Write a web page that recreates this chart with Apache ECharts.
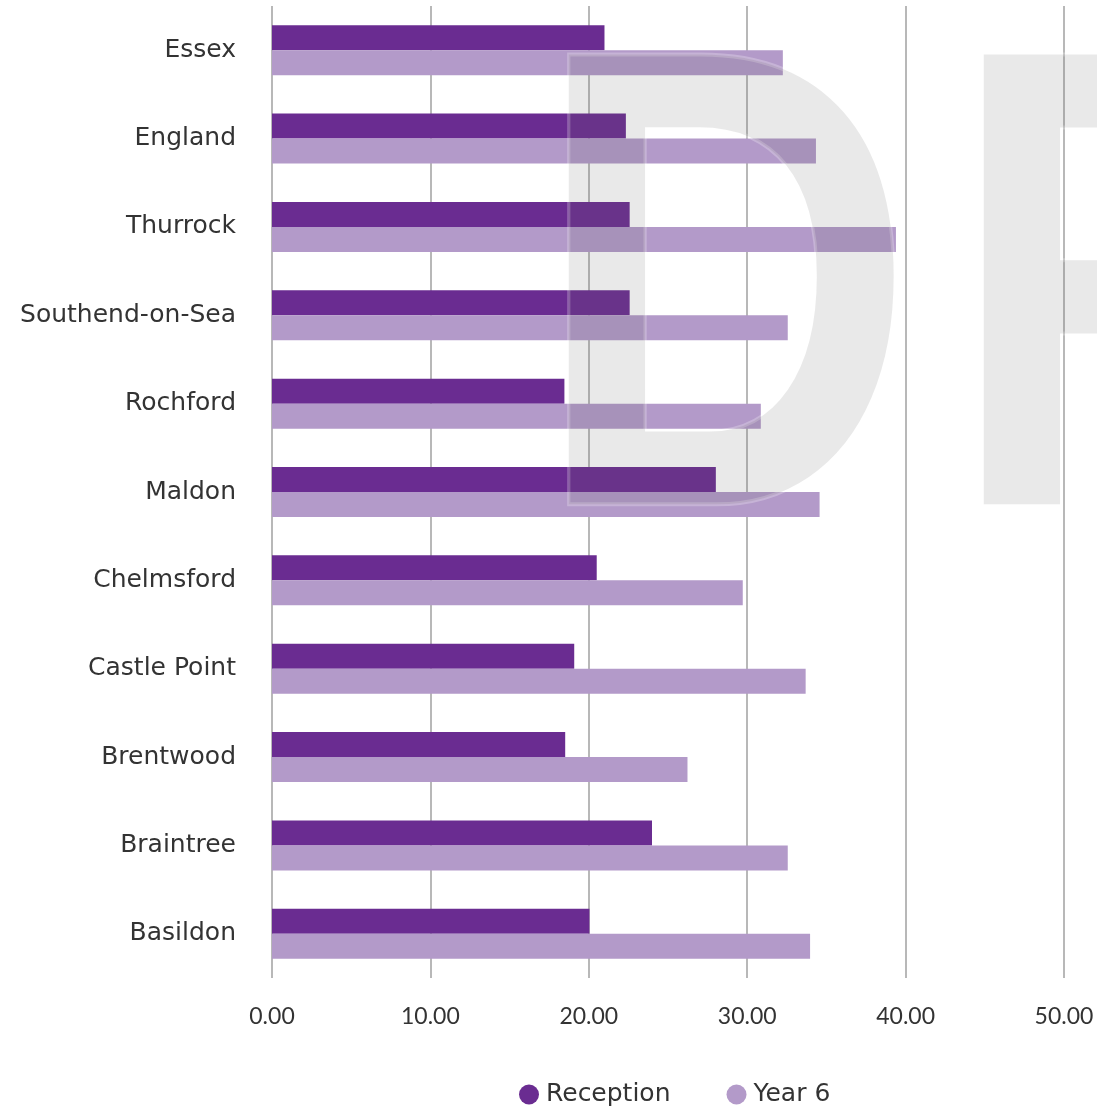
<!DOCTYPE html>
<html>
<head>
<meta charset="utf-8">
<script src="https://cdn.jsdelivr.net/npm/echarts@6/dist/echarts.min.js"></script>
<style>
html,body{margin:0;padding:0;background:#fff;}
#chart{width:1097px;height:1110px;}
</style>
</head>
<body>
<div id="chart"></div>
<script>
// Categories listed bottom to top
var categories = ['Basildon','Braintree','Brentwood','Castle Point','Chelmsford','Maldon','Rochford','Southend-on-Sea','Thurrock','England','Essex'];
var reception = [20.04, 23.99, 18.51, 19.08, 20.50, 28.02, 18.46, 22.58, 22.58, 22.34, 20.99];
var year6 = [33.97, 32.56, 26.23, 33.69, 29.72, 34.57, 30.86, 32.56, 39.39, 34.34, 32.25];
var seriesNames = ['Reception', 'Year 6'];
var xTicks = [0, 10, 20, 30, 40, 50];
var watermarkText = 'DRAFT';

var LABEL_FONT = '"DejaVu Sans", sans-serif';
var AXIS_FONT = 'Lato, "Noto Sans", sans-serif';

// watermark letters (semi-transparent overlay above the bars)
var wmSize = 654, wmScale = 0.81;
var wmLetters = watermarkText.split('').map(function (ch, i) {
  var lsb = 0.073 * wmSize * wmScale;
  return {
    type: 'text',
    x: 572 - lsb + i * 415,
    y: -3,
    z: 100,
    scaleX: wmScale,
    silent: true,
    style: {
      text: ch,
      font: 'bold ' + wmSize + 'px "Liberation Sans", Arial, sans-serif',
      fill: 'rgba(100,100,100,0.14)',
      stroke: 'rgba(255,255,255,0.25)',
      lineWidth: 4,
      textAlign: 'left',
      textVerticalAlign: 'top'
    }
  };
});

var chart = echarts.init(document.getElementById('chart'), null, {renderer: 'canvas'});
chart.setOption({
  animation: false,
  backgroundColor: '#ffffff',
  grid: {left: 272, width: 792, top: 6, bottom: 132, containLabel: false},
  legend: {
    data: seriesNames,
    top: 1077,
    left: 514,
    itemWidth: 20, itemHeight: 20, itemGap: 56,
    icon: 'circle',
    textStyle: {fontFamily: LABEL_FONT, fontSize: 25, color: '#333333', padding: [0, 0, 0, 2]}
  },
  xAxis: {
    type: 'value',
    min: xTicks[0], max: xTicks[xTicks.length - 1], interval: 10,
    axisLine: {show: false},
    axisTick: {show: false},
    splitLine: {show: true, lineStyle: {color: '#b8b8b8', width: 2}},
    axisLabel: {
      margin: 27,
      fontFamily: AXIS_FONT, fontSize: 23, color: '#333333',
      formatter: function (v) { return v.toFixed(2); }
    }
  },
  yAxis: {
    type: 'category',
    data: categories,
    axisLine: {show: false},
    axisTick: {show: false},
    axisLabel: {margin: 36, fontFamily: LABEL_FONT, fontSize: 25, color: '#333333', padding: [9, 0, 0, 0]}
  },
  series: [
    {name: 'Reception', type: 'bar', data: reception, barWidth: 25, barGap: '0%', itemStyle: {color: '#6a2c91'}},
    {name: 'Year 6', type: 'bar', data: year6, barWidth: 25, barGap: '0%', itemStyle: {color: '#b39ac9'}}
  ],
  graphic: wmLetters
});
</script>
</body>
</html>
